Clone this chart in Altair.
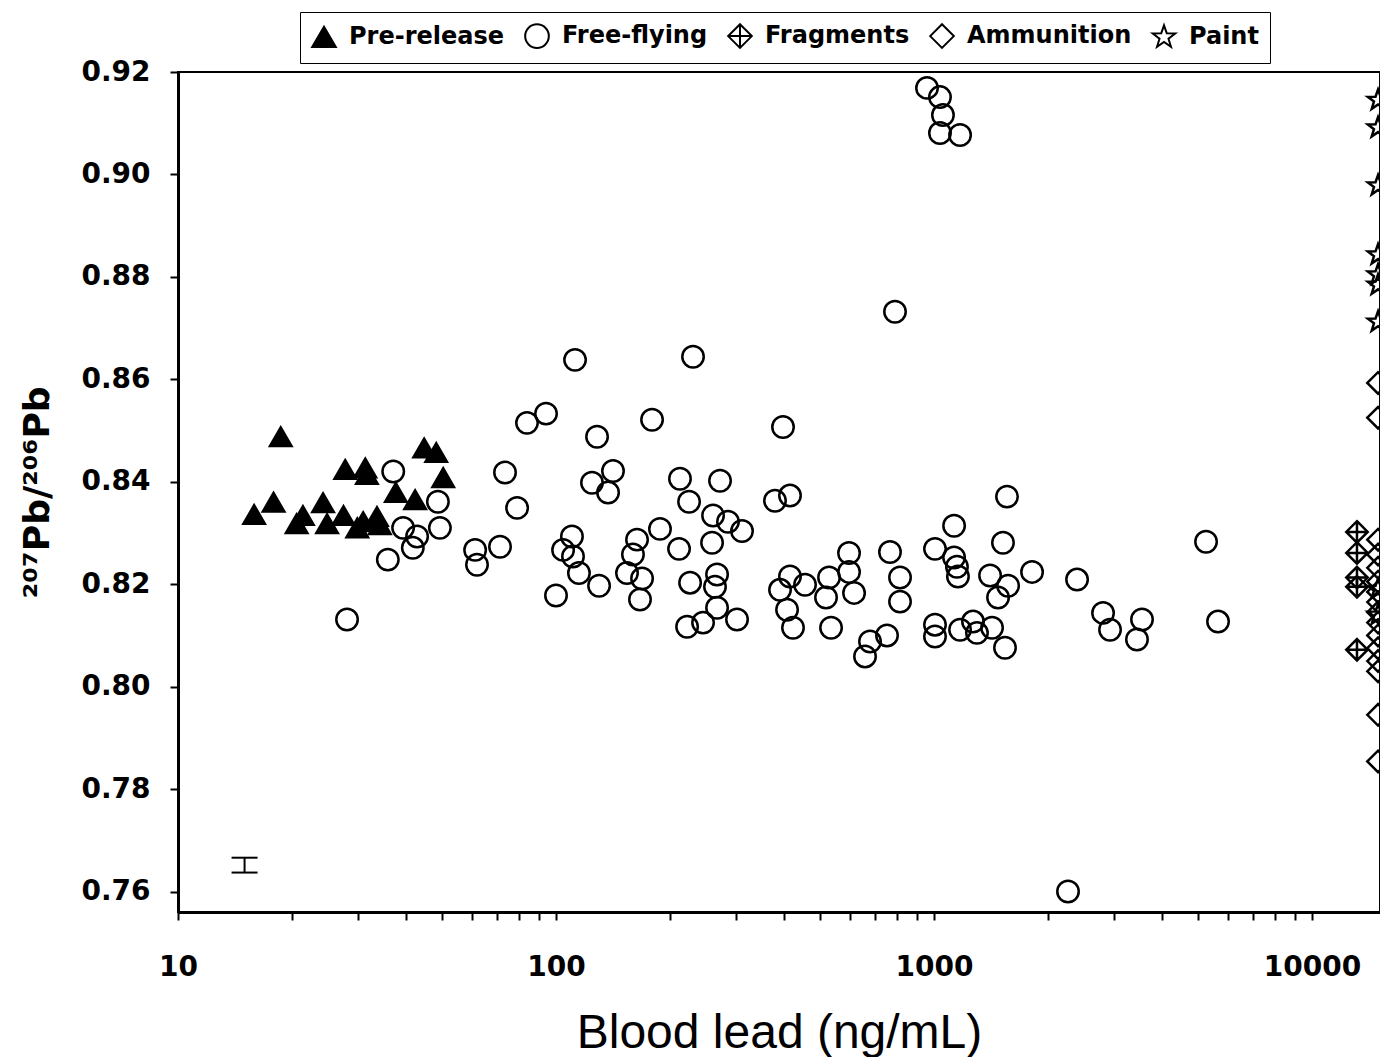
import altair as alt
import pandas as pd

# ---------------- data ----------------
prerelease_x = [15.9, 17.9, 18.7, 20.6, 21.4, 24.2, 24.8, 27.7, 31.3, 31.6,
                27.4, 29.8, 30.9, 33.6, 34.2, 37.7, 42.4, 44.8, 48.2, 50.3]
prerelease_y = [0.8336, 0.8360, 0.8488, 0.8318, 0.8334, 0.8359, 0.8318, 0.8424, 0.8427, 0.8414,
                0.8334, 0.8310, 0.8322, 0.8332, 0.8316, 0.8379, 0.8365, 0.8466, 0.8457, 0.8408]

freeflying_x = [37.1, 48.7, 39.4, 42.9, 41.8, 49.3, 35.9, 28.0, 61.1, 61.8,
                71.1, 73.3, 78.9, 83.8, 112.3, 230.4, 94.1, 128.4, 179.5, 398.6,
                124.5, 141.5, 137.3, 212.8, 271.6, 224.9, 379.6, 415.9, 260.3, 285.1,
                310.5, 258.7, 188.4, 211.6, 163.8, 159.8, 154.1, 168.9, 166.8, 110.2,
                104.4, 110.9, 115.0, 130.0, 100.0, 226.3, 266.7, 263.4, 266.7, 222.2,
                244.9, 301.2, 391.4, 415.9, 408.5, 423.6, 788.5, 1560, 1130, 1522,
                595.9, 595.9, 764.8, 813.0, 813.0, 1006, 1130, 1150, 1157, 1407,
                1570, 1477, 1817, 2390, 455.8, 527.6, 518.0, 614.4, 534.1,
                677.2, 751.0, 656.9, 1006, 1006, 1172, 1268, 1299, 1424, 1541,
                2800, 2922, 3550, 3443, 5244, 5641, 2262, 958.3, 1037, 1056, 1037, 1172]
freeflying_y = [0.8420, 0.8361, 0.8310, 0.8293, 0.8271, 0.8310, 0.8248, 0.8131, 0.8267, 0.8238,
                0.8273, 0.8418, 0.8349, 0.8515, 0.8638, 0.8644, 0.8533, 0.8488, 0.8521, 0.8507,
                0.8398, 0.8421, 0.8379, 0.8406, 0.8402, 0.8361, 0.8363, 0.8373, 0.8334, 0.8322,
                0.8304, 0.8281, 0.8308, 0.8269, 0.8287, 0.8258, 0.8222, 0.8211, 0.8170, 0.8293,
                0.8267, 0.8254, 0.8222, 0.8197, 0.8178, 0.8203, 0.8219, 0.8195, 0.8154, 0.8117,
                0.8125, 0.8131, 0.8189, 0.8215, 0.8150, 0.8115, 0.8732, 0.8371, 0.8314, 0.8281,
                0.8261, 0.8224, 0.8263, 0.8213, 0.8166, 0.8269, 0.8252, 0.8234, 0.8215, 0.8217,
                0.8197, 0.8174, 0.8224, 0.8209, 0.8199, 0.8213, 0.8174, 0.8183, 0.8115,
                0.8088, 0.8100, 0.8059, 0.8121, 0.8098, 0.8111, 0.8127, 0.8105, 0.8115, 0.8076,
                0.8144, 0.8111, 0.8131, 0.8092, 0.8283, 0.8127, 0.7600, 0.9169, 0.9151, 0.9116, 0.9081, 0.9077]

fragments_x = [13150, 13150, 13150, 13150, 13150]
fragments_y = [0.8302, 0.8261, 0.8213, 0.8195, 0.8072]

ammunition_x = [14950] * 16
ammunition_y = [0.8593, 0.8525, 0.8287, 0.8258, 0.8232, 0.8205, 0.8185, 0.8165,
                0.8145, 0.8125, 0.8100, 0.8075, 0.8050, 0.8030, 0.7945, 0.7854]

paint_x = [14950] * 9
paint_y = [0.9145, 0.9091, 0.8978, 0.8843, 0.8804, 0.8784, 0.8712, 0.8190, 0.8140]

errbar_x = [15.0]
errbar_lo = [0.7637]
errbar_hi = [0.7666]

groups = ["Pre-release", "Free-flying", "Fragments", "Ammunition", "Paint"]
x_tick_values = [10, 20, 30, 40, 50, 60, 70, 80, 90,
                 100, 200, 300, 400, 500, 600, 700, 800, 900,
                 1000, 2000, 3000, 4000, 5000, 6000, 7000, 8000, 9000, 10000]
y_tick_values = [0.76, 0.78, 0.80, 0.82, 0.84, 0.86, 0.88, 0.90, 0.92]

# ---------------- build table ----------------
rows = []
for name, xs, ys in [("Pre-release", prerelease_x, prerelease_y),
                     ("Free-flying", freeflying_x, freeflying_y),
                     ("Fragments", fragments_x, fragments_y),
                     ("Ammunition", ammunition_x, ammunition_y),
                     ("Paint", paint_x, paint_y)]:
    for xv, yv in zip(xs, ys):
        rows.append({"lead": xv, "ratio": yv, "group": name})
df = pd.DataFrame(rows)
eb = pd.DataFrame({"lead": errbar_x, "ratio": errbar_lo, "ratio_hi": errbar_hi})

FRAG = "M0,-1L1,0L0,1L-1,0Z M-1,0L1,0 M0,-1L0,1"
STAR = ("M0,-1L0.235,-0.324L0.951,-0.309L0.380,0.124L0.588,0.809L0,0.4"
        "L-0.588,0.809L-0.380,0.124L-0.951,-0.309L-0.235,-0.324Z")
shapes = ["triangle-up", "circle", FRAG, "diamond", STAR]
fills = ["black", "transparent", "transparent", "transparent", "transparent"]
strokes = ["black", "black", "black", "black", "black"]

xscale = alt.Scale(type="log", domain=[10, 15130], nice=False)
yscale = alt.Scale(domain=[0.756, 0.92], nice=False, zero=False)

xaxis = alt.Axis(
    values=x_tick_values, format="d",
    labelExpr="(datum.value == 10 || datum.value == 100 || datum.value == 1000 || datum.value == 10000) ? datum.label : ''",
    title="Blood lead (ng/mL)", titleFont="Liberation Sans", titleFontSize=48,
    titleFontWeight="normal", titleColor="black", titleBaseline="alphabetic",
    titleY=135, titleX=601, titleAlign="center",
    labelFont="DejaVu Sans", labelFontWeight="bold", labelFontSize=28, labelColor="black",
    labelPadding=33, labelFlush=False, labelOverlap=False,
    tickSize=8, tickWidth=2, tickColor="black",
    domainColor="black", domainWidth=3, grid=False,
)
yaxis = alt.Axis(
    values=y_tick_values, format=".2f",
    title="²⁰⁷Pb/²⁰⁶Pb", titleFont="DejaVu Sans", titleFontWeight="bold",
    titleFontSize=36, titleColor="black", titleX=-141, titleY=420,
    titleAlign="center", titleBaseline="middle", titleAngle=270,
    labelFont="DejaVu Sans", labelFontWeight="bold", labelFontSize=28, labelColor="black",
    labelPadding=20, tickSize=8, tickWidth=2, tickColor="black",
    domainColor="black", domainWidth=3, grid=False,
)

legend = alt.Legend(
    title=None, orient="none", legendX=122, legendY=-60, direction="horizontal",
    columns=5, symbolSize=560, symbolStrokeWidth=2, symbolStrokeColor="black",
    labelFont="DejaVu Sans", labelFontWeight="bold", labelFontSize=24, labelColor="black",
    labelOffset=12, columnPadding=16, padding=11, labelLimit=300,
    strokeColor="black", fillColor="white",
)

points = alt.Chart(df).mark_point(
    size=460, strokeWidth=2.5, opacity=1, clip=True
).encode(
    x=alt.X("lead:Q", scale=xscale, axis=xaxis),
    y=alt.Y("ratio:Q", scale=yscale, axis=yaxis),
    shape=alt.Shape("group:N", scale=alt.Scale(domain=groups, range=shapes), legend=legend),
    fill=alt.Fill("group:N", scale=alt.Scale(domain=groups, range=fills), legend=legend),
    stroke=alt.Stroke("group:N", scale=alt.Scale(domain=groups, range=strokes), legend=legend),
)

err_rule = alt.Chart(eb).mark_rule(stroke="black", strokeWidth=2).encode(
    x=alt.X("lead:Q", scale=xscale, axis=xaxis),
    y=alt.Y("ratio:Q", scale=yscale, axis=yaxis),
    y2="ratio_hi:Q",
)
err_lo = alt.Chart(eb).mark_tick(orient="horizontal", size=26, thickness=2, color="black", opacity=1).encode(
    x=alt.X("lead:Q", scale=xscale, axis=xaxis),
    y=alt.Y("ratio:Q", scale=yscale, axis=yaxis),
)
err_hi = alt.Chart(eb).mark_tick(orient="horizontal", size=26, thickness=2, color="black", opacity=1).encode(
    x=alt.X("lead:Q", scale=xscale, axis=xaxis),
    y=alt.Y("ratio_hi:Q", scale=yscale, axis=yaxis),
)

chart = alt.layer(points, err_rule, err_lo, err_hi).properties(
    width=1202, height=840,
    autosize=alt.AutoSizeParams(type="none"),
    padding={"left": 178, "top": 72, "right": 0, "bottom": 145},
    background="white",
).configure_view(stroke="black", strokeWidth=2)

chart.save("out.html", embed_options={"renderer": "svg", "actions": False})
